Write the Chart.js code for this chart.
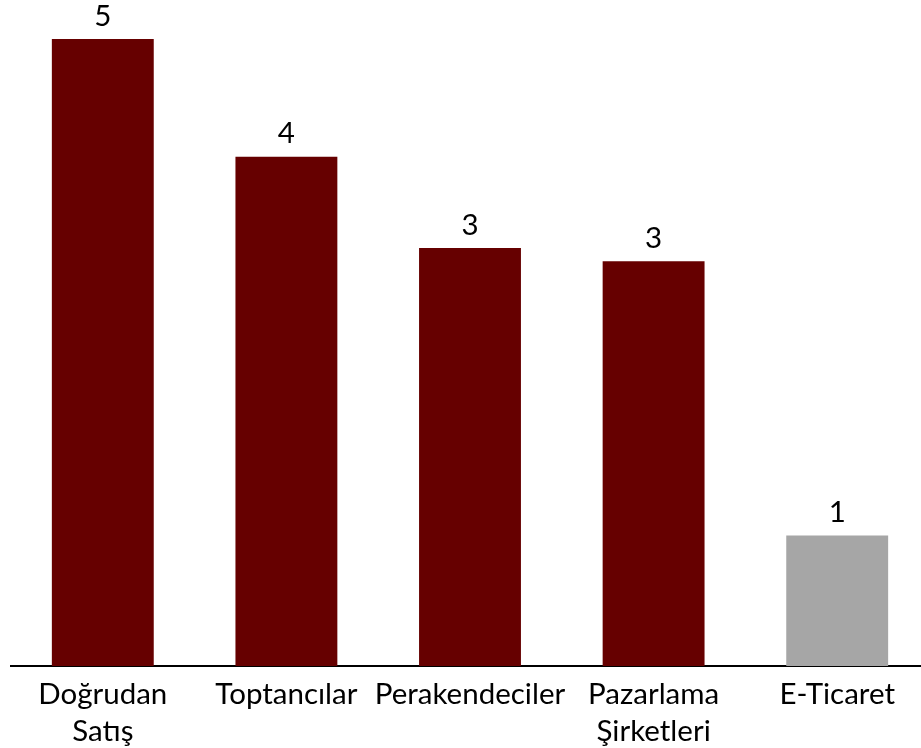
<!DOCTYPE html>
<html lang="tr">
<head>
    <meta charset="UTF-8">
    <title>Satış Kanalları</title>
    <script src="https://cdn.jsdelivr.net/npm/chart.js@4.4.0/dist/chart.umd.min.js"></script>
    <style>
        html, body { margin: 0; padding: 0; background: #fff; overflow: hidden; }
        .wrap { width: 921px; height: 748px; overflow: hidden; position: relative; }
        canvas { position: absolute; left: 0; top: 0; }
    </style>
</head>
<body>
    <div class="wrap">
        <canvas id="kanalChart" width="929" height="748"></canvas>
    </div>

    <script>
        // data
        const categories = [['Doğrudan', 'Satış'], 'Toptancılar', 'Perakendeciler', ['Pazarlama', 'Şirketleri'], 'E-Ticaret'];
        const values = [4.8, 3.9, 3.2, 3.1, 1.0];
        const barColors = ['#660000', '#660000', '#660000', '#660000', '#A6A6A6'];

        const FONT = 'Lato, "Open Sans", sans-serif';

        // value labels above each bar
        const valueLabels = {
            id: 'valueLabels',
            afterDatasetsDraw(chart) {
                const ctx = chart.ctx;
                const meta = chart.getDatasetMeta(0);
                ctx.save();
                ctx.font = '29.5px ' + FONT;
                ctx.fillStyle = '#000';
                ctx.textAlign = 'center';
                ctx.textBaseline = 'bottom';
                meta.data.forEach((bar, i) => {
                    ctx.fillText(Math.round(values[i]).toString(), bar.x, bar.y - 8);
                });
                ctx.restore();
            }
        };

        new Chart(document.getElementById('kanalChart').getContext('2d'), {
            type: 'bar',
            data: {
                labels: categories,
                datasets: [{
                    data: values,
                    backgroundColor: barColors,
                    borderWidth: 0,
                    categoryPercentage: 1,
                    barPercentage: 0.555
                }]
            },
            options: {
                responsive: false,
                animation: false,
                layout: { padding: { left: 11, top: 13, right: 0, bottom: 0 } },
                plugins: {
                    legend: { display: false },
                    tooltip: { enabled: false }
                },
                scales: {
                    x: {
                        grid: { display: false, drawTicks: false },
                        border: { display: true, color: '#000', width: 2 },
                        ticks: {
                            color: '#000',
                            padding: 10,
                            maxRotation: 0,
                            autoSkip: false,
                            font: { family: FONT, size: 29.5, lineHeight: 1.25 }
                        },
                        afterFit(scale) { scale.height = 82; }
                    },
                    y: {
                        display: false,
                        min: 0,
                        max: 5
                    }
                }
            },
            plugins: [valueLabels]
        });
    </script>
</body>
</html>
